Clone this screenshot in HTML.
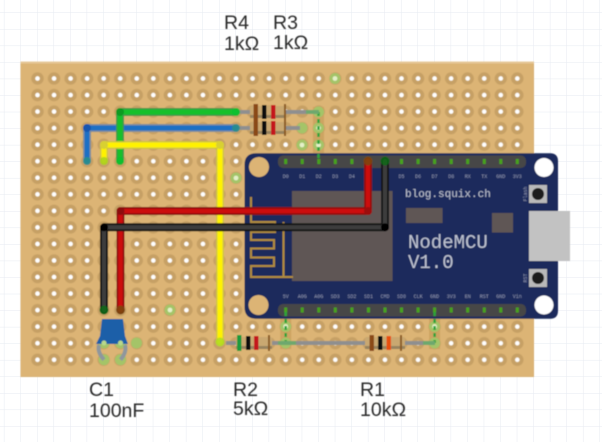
<!DOCTYPE html>
<html><head><meta charset="utf-8">
<style>html,body{margin:0;padding:0;background:#fff}svg{display:block}
.l{font:19.5px "Liberation Sans","DejaVu Sans",sans-serif;fill:#2c2c2c}
.m{font-family:"Liberation Mono",monospace;fill:#bcc1d0}
.p{font:5px "Liberation Mono",monospace;fill:#8f96b2;text-anchor:middle}
</style></head><body>
<svg width="602" height="442" viewBox="0 0 602 442" xmlns="http://www.w3.org/2000/svg">
<defs>
<pattern id="g" x="3.9" y="12.5" width="16.545" height="16.545" patternUnits="userSpaceOnUse">
<path d="M0 0V16.545M0 0H16.545" stroke="#e6eaf1" stroke-width="1" fill="none"/>
</pattern>
<pattern id="h" x="29.23" y="70.23" width="16.545" height="16.545" patternUnits="userSpaceOnUse">
<circle cx="8.27" cy="8.27" r="6.2" fill="#c6a065"/>
<circle cx="8.27" cy="8.27" r="2.3" fill="#ffffff"/>
</pattern>
<filter id="b" x="-5%" y="-5%" width="110%" height="110%"><feGaussianBlur stdDeviation="0.6"/></filter>
</defs>
<rect width="602" height="442" fill="#fff"/>
<rect width="602" height="442" fill="url(#g)"/>
<g filter="url(#b)">
<rect x="20.5" y="61.5" width="513.500" height="315.500" fill="#dcb474"/>
<rect x="20.5" y="61.5" width="513.500" height="2" fill="#e6c898"/>
<rect x="29" y="70" width="497" height="298" fill="url(#h)"/>
<!-- PCB traces -->
<g stroke="#c9a05e" stroke-width="11" opacity=".8" fill="none"><path d="M318.500 107V153M285.700 319V349M434.600 319V349"/></g>
<!-- highlighted holes -->
<g fill="#a4c468">
<circle cx="335" cy="78.5" r="5.5"/><circle cx="236" cy="178" r="5.5"/><circle cx="170" cy="310" r="5.5"/><circle cx="136.5" cy="343" r="5.5"/>
<circle cx="302" cy="128" r="5.5"/><circle cx="302" cy="145" r="5.5"/><circle cx="318.5" cy="112" r="5.5"/><circle cx="318.5" cy="128" r="5.5"/><circle cx="318.5" cy="145" r="5.5"/>
<circle cx="285.7" cy="326.5" r="5.5"/><circle cx="285.7" cy="343" r="5.5"/><circle cx="434.6" cy="326.5" r="5.5"/><circle cx="434.6" cy="343" r="5.5"/>
<circle cx="104" cy="343" r="5.5"/><circle cx="120.5" cy="343" r="5.5"/><circle cx="104" cy="359.7" r="5.5"/><circle cx="120.5" cy="359.7" r="5.5"/>
</g>
<g fill="#e4f0c8">
<circle cx="335" cy="78.5" r="2.4"/><circle cx="236" cy="178" r="2.4"/><circle cx="170" cy="310" r="2.4"/><circle cx="302" cy="145" r="2.4"/><circle cx="318.5" cy="128" r="2.4"/><circle cx="318.5" cy="145" r="2.4"/><circle cx="285.7" cy="326.5" r="2.4"/><circle cx="434.6" cy="326.5" r="2.4"/>
</g>
<!-- module -->
<rect x="529" y="211" width="41" height="50" fill="#c2c2c2"/>
<path d="M256 153.3H550Q558 153.3 558 161.300V211H529V261H558V310.700Q558 318.700 550 318.700H256Q244.500 318.700 244.500 307V165Q244.500 153.300 256 153.300Z" fill="#1b2a5c"/>
<circle cx="259" cy="167" r="10" fill="#dcb474"/><circle cx="258.500" cy="305" r="10" fill="#dcb474"/>
<circle cx="544" cy="167.500" r="9.500" fill="#fff"/><circle cx="544" cy="305" r="9.500" fill="#fff"/>
<rect x="278" y="155.500" width="248" height="12.500" rx="5" fill="#474746"/>
<rect x="278" y="304" width="248" height="12.500" rx="5" fill="#474746"/>
<g fill="#46a31c">
<rect x="284.200" y="159" width="3" height="5"/><rect x="300.700" y="159" width="3" height="5"/><rect x="317.300" y="159" width="3" height="5"/><rect x="333.800" y="159" width="3" height="5"/><rect x="350.400" y="159" width="3" height="5"/><rect x="367" y="159" width="3" height="5"/><rect x="383.500" y="159" width="3" height="5"/><rect x="400" y="159" width="3" height="5"/><rect x="416.600" y="159" width="3" height="5"/><rect x="433.100" y="159" width="3" height="5"/><rect x="449.700" y="159" width="3" height="5"/><rect x="466.200" y="159" width="3" height="5"/><rect x="482.800" y="159" width="3" height="5"/><rect x="499.300" y="159" width="3" height="5"/><rect x="515.800" y="159" width="3" height="5"/>
<rect x="284.200" y="307.500" width="3" height="5"/><rect x="300.700" y="307.500" width="3" height="5"/><rect x="317.300" y="307.500" width="3" height="5"/><rect x="333.800" y="307.500" width="3" height="5"/><rect x="350.400" y="307.500" width="3" height="5"/><rect x="367" y="307.500" width="3" height="5"/><rect x="383.500" y="307.500" width="3" height="5"/><rect x="400" y="307.500" width="3" height="5"/><rect x="416.600" y="307.500" width="3" height="5"/><rect x="433.100" y="307.500" width="3" height="5"/><rect x="449.700" y="307.500" width="3" height="5"/><rect x="466.200" y="307.500" width="3" height="5"/><rect x="482.800" y="307.500" width="3" height="5"/><rect x="499.300" y="307.500" width="3" height="5"/><rect x="515.800" y="307.500" width="3" height="5"/>
</g>
<g>
<text class="p" x="285.700" y="178">D0</text><text class="p" x="302.200" y="178">D1</text><text class="p" x="318.800" y="178">D2</text><text class="p" x="335.300" y="178">D3</text><text class="p" x="351.900" y="178">D4</text><text class="p" x="368.500" y="178">3V</text><text class="p" x="385" y="178">G</text><text class="p" x="401.500" y="178">D5</text><text class="p" x="418.100" y="178">D6</text><text class="p" x="434.600" y="178">D7</text><text class="p" x="451.200" y="178">D8</text><text class="p" x="467.700" y="178">RX</text><text class="p" x="484.300" y="178">TX</text><text class="p" x="500.800" y="178">GND</text><text class="p" x="517.300" y="178">3V3</text>
<text class="p" x="285.700" y="298">5V</text><text class="p" x="302.200" y="298">A0G</text><text class="p" x="318.800" y="298">A0G</text><text class="p" x="335.300" y="298">SD3</text><text class="p" x="351.900" y="298">SD2</text><text class="p" x="368.500" y="298">SD1</text><text class="p" x="385" y="298">CMD</text><text class="p" x="401.500" y="298">SD0</text><text class="p" x="418.100" y="298">CLK</text><text class="p" x="434.600" y="298">GND</text><text class="p" x="451.200" y="298">3V3</text><text class="p" x="467.700" y="298">EN</text><text class="p" x="484.300" y="298">RST</text><text class="p" x="500.800" y="298">GND</text><text class="p" x="517.300" y="298">Vin</text>
</g>
<rect x="292" y="191" width="100.500" height="90" fill="#5e5655"/>
<rect x="406" y="208" width="36.500" height="15" fill="#5e5655"/>
<rect x="492" y="213" width="21" height="19.500" fill="#5e5655"/>
<path d="M251 197V222H275V232H251V240H274V248.500H251V257.500H274V266H251V277H293M283.500 222V277" fill="none" stroke="#b08c3c" stroke-width="2"/>
<text class="m" x="405" y="197" font-size="11">blog.squix.ch</text>
<text class="m" x="408" y="248" font-size="19">NodeMCU</text>
<text class="m" x="408" y="268" font-size="19">V1.0</text>
<rect x="529" y="185" width="18" height="18" fill="#b9b9b9"/><circle cx="538" cy="194" r="6" fill="#1c1c1c"/>
<rect x="529" y="269" width="18" height="18" fill="#b9b9b9"/><circle cx="538" cy="278" r="6" fill="#1c1c1c"/>
<text class="p" x="525" y="196" transform="rotate(-90 525 194)">Flash</text>
<text class="p" x="525" y="280" transform="rotate(-90 525 278)">RST</text>
<g stroke="#2ca33a" stroke-width="2.500" stroke-dasharray="4 3" fill="none"><path d="M318.500 112V160M285.700 312V343M434.600 312V343"/></g>
<!-- resistors -->
<g stroke="#8f8f8f" stroke-width="4" fill="none">
<path d="M240 112H250M286 112H316M240 128H250M286 128H300M226 343H238M272 343H366M404 343H432"/>
</g>
<g stroke="#6ea86e" stroke-width="4"><path d="M306 112H319M278 343H296M423 343H435"/></g>
<g>
<rect x="250" y="106" width="36" height="12" rx="2" fill="#c9a871"/><rect x="250" y="122" width="36" height="12" rx="2" fill="#c9a871"/>
<rect x="236" y="337" width="36" height="12" rx="2" fill="#c9a871"/><rect x="365" y="337" width="40" height="12" rx="2" fill="#c9a871"/>
<rect x="250" y="115" width="36" height="3" fill="#97835f"/><rect x="250" y="131" width="36" height="3" fill="#97835f"/>
<rect x="236" y="346" width="36" height="3" fill="#97835f"/><rect x="365" y="346" width="40" height="3" fill="#97835f"/>
</g>
<g>
<rect x="253.500" y="104" width="4.500" height="16" fill="#8a4a14"/><rect x="262" y="105" width="4.500" height="14" fill="#111"/><rect x="271" y="105" width="4.500" height="14" fill="#c4161c"/><rect x="284" y="104" width="2" height="16" fill="#8a5a20"/>
<rect x="253.500" y="120" width="4.500" height="16" fill="#8a4a14"/><rect x="262" y="121" width="4.500" height="14" fill="#111"/><rect x="271" y="121" width="4.500" height="14" fill="#c4161c"/><rect x="284" y="120" width="2" height="16" fill="#8a5a20"/>
<rect x="237" y="335" width="4.500" height="16" fill="#1a9a3c"/><rect x="246" y="336" width="4.500" height="14" fill="#111"/><rect x="254" y="336" width="4.500" height="14" fill="#c4161c"/><rect x="268" y="335" width="2" height="16" fill="#8a5a20"/>
<rect x="369.500" y="335" width="4.500" height="16" fill="#8a4a14"/><rect x="378" y="336" width="4.500" height="14" fill="#111"/><rect x="386.500" y="336" width="4.500" height="14" fill="#e8500f"/><rect x="400" y="335" width="2" height="16" fill="#8a5a20"/>
</g>
<!-- capacitor -->
<path d="M99 345Q97 352 104 359.700M125 345Q127 352 120.500 359.700" stroke="#8f979c" stroke-width="4" fill="none"/>
<path d="M102 319H123L125 336L128 344H96L100 336Z" fill="#1f5ea8"/>
<circle cx="104" cy="343" r="2.500" fill="#b8d88a"/><circle cx="120.500" cy="343" r="2.500" fill="#b8d88a"/>
<!-- wires -->
<g fill="none" stroke-linejoin="round" stroke-linecap="round">
<path d="M236 128H87V161" stroke="#7d8d9e" stroke-width="8"/><path d="M236 128H87V161" stroke="#1f6fc4" stroke-width="5"/>
<path d="M236 112H120V161" stroke="#3a9a48" stroke-width="8"/><path d="M236 112H120V161" stroke="#12c02a" stroke-width="5"/>
<path d="M104 161V145H220V342" stroke="#d0c838" stroke-width="8" opacity=".9"/><path d="M104 161V145H220V342" stroke="#fff200" stroke-width="5"/>
<path d="M120.500 310V211H368V161" stroke="#8c1010" stroke-width="8"/><path d="M120.500 310V211H368V161" stroke="#cc1010" stroke-width="4.500"/>
<path d="M104 310V227.300H385V161" stroke="#161616" stroke-width="8"/><path d="M104 310V227.300H385V161" stroke="#3c3c3c" stroke-width="4"/>
</g>
<circle cx="87" cy="128" r="4" fill="#1557b0"/><circle cx="120" cy="112" r="4" fill="#0c9a20"/><circle cx="104" cy="145" r="4" fill="#d8d030"/><circle cx="220" cy="145" r="4" fill="#d8d030"/>
<circle cx="120.500" cy="211" r="4" fill="#8c0808"/><circle cx="368" cy="211" r="4" fill="#9c0c0c"/><circle cx="104" cy="227.300" r="4" fill="#000"/><circle cx="385" cy="227.300" r="4" fill="#000"/>
<g opacity=".85">
<circle cx="87" cy="161" r="4" fill="#2a8f8a"/><circle cx="104" cy="161" r="4" fill="#a8d020"/><circle cx="120" cy="161" r="4" fill="#10c030"/>
<circle cx="236" cy="112" r="4" fill="#10c030"/><circle cx="236" cy="128" r="4" fill="#2a8f8a"/><circle cx="220" cy="342" r="4.500" fill="#b0dc20"/>
<circle cx="104" cy="310" r="4.500" fill="#0c6a18"/><circle cx="120.500" cy="310" r="4.500" fill="#7a4a10"/><circle cx="368" cy="161" r="4.500" fill="#7a4a10"/><circle cx="385" cy="161" r="4.500" fill="#0c6a18"/>
</g>
<text class="l" x="224" y="29">R4</text><text class="l" x="224" y="50">1kΩ</text>
<text class="l" x="273" y="29">R3</text><text class="l" x="273" y="49">1kΩ</text>
<text class="l" x="89" y="396">C1</text><text class="l" x="89" y="417">100nF</text>
<text class="l" x="233" y="396">R2</text><text class="l" x="233" y="415">5kΩ</text>
<text class="l" x="360" y="396">R1</text><text class="l" x="360" y="416">10kΩ</text>
</g>
</svg>
</body></html>
